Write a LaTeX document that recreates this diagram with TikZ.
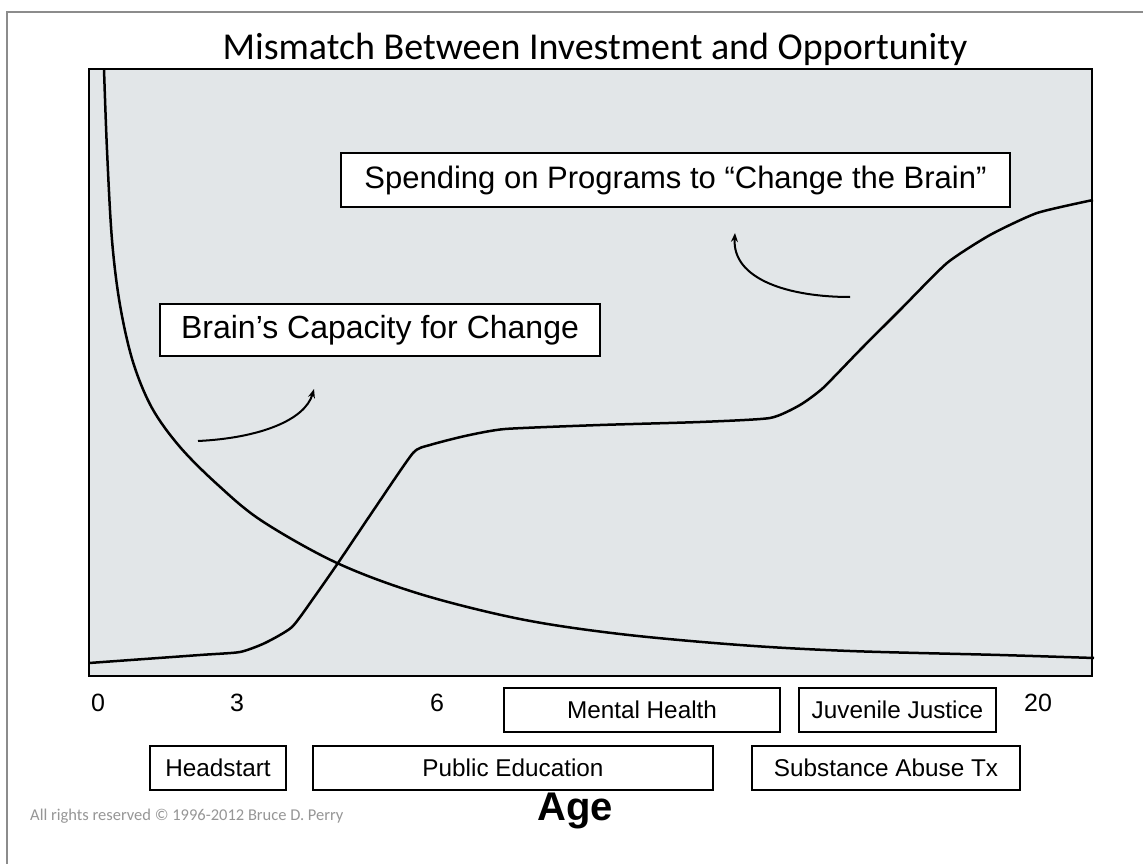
\documentclass[tikz,border=0pt]{standalone}
\usepackage{fontspec}
\setmainfont{Liberation Sans}
\newfontfamily\calib{Carlito}
\usetikzlibrary{arrows.meta}
\definecolor{plotbg}{RGB}{226,230,232}
\definecolor{framegray}{RGB}{140,140,140}
\definecolor{copygray}{RGB}{150,150,150}
\tikzset{
  curve/.style={line width=2.5pt, black, line join=round},
  labelbox/.style={draw=black, line width=2pt, fill=white, inner sep=0pt, anchor=center},
  tick/.style={font=\fontsize{25}{25}\selectfont, inner sep=0pt},
  pointer/.style={line width=2pt, -{Stealth[length=9pt,width=7pt]}},
  smallbox/.style={labelbox, minimum height=44pt, font=\fontsize{24.3}{24.3}\selectfont},
}
\begin{document}
\begin{tikzpicture}[x=1pt,y=-1pt]
\useasboundingbox (0,0) rectangle (1143,864);
\fill[white] (0,0) rectangle (1143,864);
% outer frame (top and left)
\draw[framegray, line width=2pt] (7,864) -- (7,12) -- (1143,12);
% plot area
\draw[fill=plotbg, line width=2pt] (89,69) rectangle (1092,676);
% title
\node[font=\calib\fontsize{38}{38}\selectfont, inner sep=0pt] (title) at (595,49) {Mismatch Between Investment and Opportunity};
% brain capacity curve
\draw[curve] plot[smooth, tension=0.55] coordinates {(104,69) (107,150) (112,240) (120,305) (133,362) (152,408) (180,447) (218,485) (262,521) (337,563) (420,594) (520,619) (620,634) (740,645) (850,651) (1000,655) (1094,658)};
% spending curve
\draw[curve] plot[smooth, tension=0.35] coordinates {(89,663) (200,655) (240,652) (265,643) (292,627) (315,596) (338,563) (375,508) (413,453) (430,445) (465,436) (505,429) (600,425) (700,422) (770,418) (800,405) (823,388) (860,350) (900,310) (947,263) (990,235) (1037,213) (1093,200)};
% label boxes
\node[labelbox, minimum width=669pt, minimum height=53pt, font=\fontsize{31}{31}\selectfont] (spend) at (675.5,180) {Spending on Programs to “Change the Brain”};
\node[labelbox, minimum width=440pt, minimum height=52pt, font=\fontsize{32}{32}\selectfont] (brain) at (380,330) {Brain’s Capacity for Change};
% pointer arrows
\coordinate (a1s) at (198,441);
\coordinate (a1e) at (314,389);
\draw[pointer] (a1s) .. controls (260,438) and (305,420) .. (a1e);
\coordinate (a2s) at (850,297);
\coordinate (a2e) at (735,233);
\draw[pointer] (a2s) .. controls (790,297) and (732,280) .. (a2e);
% axis ticks
\node[tick] (t0) at (98,703) {0};
\node[tick] (t3) at (237,703) {3};
\node[tick] (t6) at (437,703) {6};
\node[tick] (t20) at (1038,703) {20};
% program boxes
\node[smallbox, minimum width=276pt] (mh) at (642,710) {Mental Health};
\node[smallbox, minimum width=197pt] (jj) at (897.5,710) {Juvenile Justice};
\node[smallbox, minimum width=136pt] (hs) at (218,768) {Headstart};
\node[smallbox, minimum width=400pt] (pe) at (513,768) {Public Education};
\node[smallbox, minimum width=268pt] (sa) at (886,768) {Substance Abuse Tx};
% axis label and copyright
\node[font=\bfseries\fontsize{40}{40}\selectfont, inner sep=0pt] (age) at (575,811) {Age};
\node[font=\calib\fontsize{16.5}{16.5}\selectfont, text=copygray, anchor=west, inner sep=0pt] (copy) at (30,816) {All rights reserved © 1996-2012 Bruce D. Perry};
\end{tikzpicture}
\end{document}
